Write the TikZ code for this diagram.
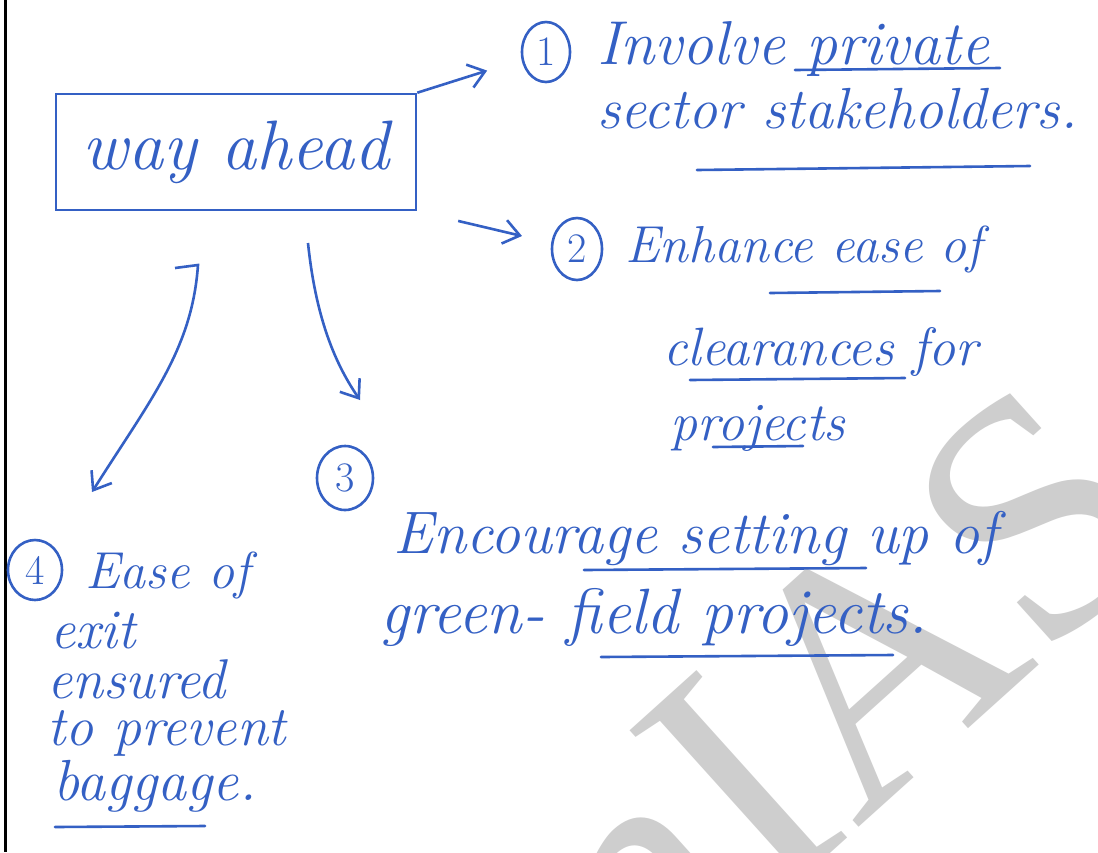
\documentclass[tikz,border=0pt]{standalone}
\usepackage{fontspec}
\usepackage{tikz}
\usetikzlibrary{shapes.geometric,arrows.meta}
\newfontfamily\markfont{Liberation Serif}
\definecolor{ink}{RGB}{52,96,196}
\definecolor{mark}{RGB}{206,206,206}
\newcommand{\handsize}[1]{\fontsize{#1}{#1}\selectfont\itshape}
\tikzstyle{hand} = [text=ink, font=\handsize{30}, anchor=base west, inner sep=0pt]
\tikzstyle{num} = [draw=ink, ellipse, line width=1.3pt, minimum width=25pt, minimum height=31pt, inner sep=0pt, text=ink, font=\fontsize{21}{21}\selectfont]
\tikzstyle{box} = [draw=ink, rectangle, line width=1.3pt, minimum width=180pt, minimum height=58pt, text=ink, font=\handsize{35}]
\tikzstyle{link} = [draw=ink, line width=1.3pt, ->]
\tikzstyle{uline} = [draw=ink, line width=1.3pt, line cap=round]

\begin{document}
\begin{tikzpicture}[x=0.5pt, y=-0.5pt, >={Straight Barb[length=8pt,width=12pt]}]
    \useasboundingbox (0,0) rectangle (1098,852);
    \fill[white] (0,0) rectangle (1098,852);
    % watermark
    \begin{scope}
      \clip (0,0) rectangle (1098,852);
      \node [text=mark, font=\markfont\fontsize{172}{172}\selectfont, rotate=42] (wm) at (838,695) {nIAS};
    \end{scope}
    \draw [line width=1.5pt] (5,0) -- (5,852);

    \node [box] (way) at (236,152) {way ahead};
    \node [num, minimum width=24pt, minimum height=30pt] (one) at (546,52) {1};
    \node [num] (two) at (577,249) {2};
    \node [num, minimum width=28pt, minimum height=32pt] (three) at (345,478) {3};
    \node [num, minimum width=27pt, minimum height=30pt] (four) at (35,570) {4};

    % point 1
    \node [hand, font=\handsize{31}] (l1a) at (597,64) {Involve private};
    \node [hand, font=\handsize{29}] (l1b) at (597,128) {sector stakeholders.};
    % point 2
    \node [hand, font=\handsize{26}] (l2a) at (625,262) {Enhance ease of};
    \node [hand, font=\handsize{27}] (l2b) at (663,365) {clearances for};
    \node [hand, font=\handsize{27}] (l2c) at (670,440) {projects};
    % point 3
    \node [hand] (l3a) at (393,553) {Encourage setting up of};
    \node [hand, font=\handsize{32}] (l3b) at (380,633) {green- field projects.};
    % point 4
    \node [hand, font=\handsize{26}] (l4a) at (85,588) {Ease of};
    \node [hand, font=\handsize{28}] (l4b) at (50,648) {exit};
    \node [hand, font=\handsize{28}] (l4c) at (47,698) {ensured};
    \node [hand, font=\handsize{28}] (l4d) at (47,745) {to prevent};
    \node [hand, font=\handsize{29}] (l4e) at (53,800) {baggage.};

    \draw [uline] (795,70) -- (1000,68);
    \draw [uline] (697,170) -- (1030,166);
    \draw [uline] (770,293) -- (940,291);
    \draw [uline] (690,380) -- (905,378);
    \draw [uline] (713,447) -- (803,446);
    \draw [uline] (584,570) -- (866,568);
    \draw [uline] (601,657) -- (893,655);
    \draw [uline] (55,827) -- (205,826);

    \coordinate (a3s) at (308,243);
    \coordinate (a3e) at (360,400);
    \coordinate (a4s) at (175,268);
    \coordinate (a4e) at (92,492);

    \draw [link, shorten >=18pt] (way.north east) -- (one);
    \draw [link, shorten <=21pt, shorten >=15pt] (way.south east) -- (two);
    \draw [link] (a3s) .. controls (316,320) and (336,365) .. (a3e);
    \draw [link] (a4s) -- (198,265) .. controls (192,350) and (150,400) .. (a4e);
\end{tikzpicture}
\end{document}
